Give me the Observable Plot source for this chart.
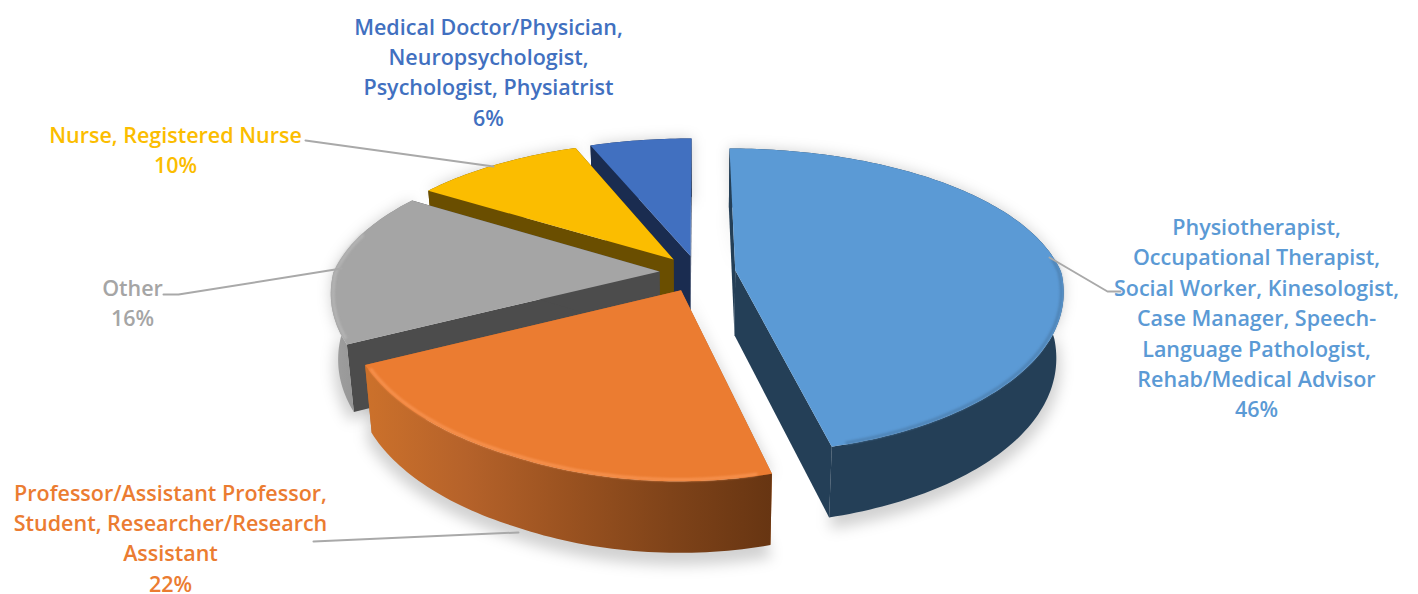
<!DOCTYPE html>
<html><head><meta charset="utf-8">
<script src="https://cdn.jsdelivr.net/npm/d3@7"></script>
<script src="https://cdn.jsdelivr.net/npm/@observablehq/plot@0.6"></script>
<style>html,body{margin:0;padding:0;background:#fff}svg{display:block}</style>
</head><body><div id="chart"></div>
<script>
const categories = ["Physiotherapist, Occupational Therapist, Social Worker, Kinesologist, Case Manager, Speech-Language Pathologist, Rehab/Medical Advisor",
  "Professor/Assistant Professor, Student, Researcher/Research Assistant","Other","Nurse, Registered Nurse","Medical Doctor/Physician, Neuropsychologist, Psychologist, Physiatrist"];
const shares = [46,22,16,10,6];
const topColors = ["#5b9ad5","#eb7c31","#a5a5a5","#fbbd00","#4170c0"];
const wallColors = ["#243f57","#b8652a","#4c4c4c","#6a4e00","#1a2c50"];
const rimColors = ["#243f57","url(#orangeRim)","url(#grayRim)","#6a4e00","#1a2c50"];
const glowColors = ["#4f84b6","#f6914e","#b4b4b4","#fbbd00","#4170c0"];
const glowFrom = [86,168,247];
const glowTo = [163,243,285];
const labelText = ["Physiotherapist,\nOccupational Therapist,\nSocial Worker, Kinesologist,\nCase Manager, Speech-\nLanguage Pathologist,\nRehab/Medical Advisor\n46%",
  "Professor/Assistant Professor,\nStudent, Researcher/Research\nAssistant\n22%","Other\n16%","Nurse, Registered Nurse\n10%",
  "Medical Doctor/Physician,\nNeuropsychologist,\nPsychologist, Physiatrist\n6%"];
const labelX = [1256,170,132,175,488];
const labelY = [316,536,301,148,70];
const leaders = [
  [[1049,257],[1107,291],[1120,291]],
  [[518,532],[313,541]],
  [[341,268],[178,294],[163,294]],
  [[493,166],[305,140]],
  []
];
// projection of the tilted disc
const cx=697, cy=272, A=326, B=147, k=0.2, bulge=20, explode=0.117;
const project=(u,v,h)=>({
  x:cx+A*u/(1-(v>0?0.12:0.18)*v)*(1-0.02*h),
  y:cy+B*v/(1-k*v)+(v>0&&v<1?bulge*v*(1-v):0)+h*(65+6*v)
});
let acc=0;
const slices=shares.map((s,i)=>{const a0=acc/100*2*Math.PI;acc+=s;const a1=acc/100*2*Math.PI;const m=(a0+a1)/2;
  return {i,a0,a1,ou:explode*Math.sin(m),ov:-explode*Math.cos(m)};});
const pt=(s,r,a,h)=>project(s.ou+r*Math.sin(a),s.ov-r*Math.cos(a),h);
const arcBetween=(s,a0,a1,h,r=1,rev=false)=>{const n=Math.ceil((a1-a0)/0.02);const p=d3.range(n+1).map(j=>pt(s,r,a0+(a1-a0)*j/n,h));return rev?p.reverse():p;};
const arc=(s,h,r=1,rev=false)=>arcBetween(s,s.a0,s.a1,h,r,rev);
const topFace=(s,h=0)=>[pt(s,0,0,h),...arc(s,h)];
const rimWall=s=>[...arc(s,0),...arc(s,1,1,true)];
const radial=(s,a)=>[pt(s,0,0,0),pt(s,1,a,0),pt(s,1,a,1),pt(s,0,0,1)];
const face=(data,fill,extra={})=>Plot.line(data,{x:"x",y:"y",fill,stroke:"none",...extra});
const defs=()=>{const d=d3.create("svg:defs");
  const grad=(id,stops)=>{const g=d.append("linearGradient").attr("id",id);stops.forEach((c,j)=>g.append("stop").attr("offset",j/(stops.length-1)).attr("stop-color",c));};
  grad("orangeRim",["#cc712b","#b5622a","#9a5220","#7f4319","#673512"]);
  grad("grayRim",["#a0a0a0","#7e7e7e"]);
  return d.node();};
const marks=[defs];
slices.forEach(s=>{
  const shadow=[...topFace(s,0),...arc(s,1.12,1.015,true)];
  marks.push(face(shadow,"#000",{fillOpacity:0.18,imageFilter:"blur(7px)"}));
});
[4,3,2,1,0].forEach(i=>{const s=slices[i];
  marks.push(face(radial(s,s.a0),wallColors[i]));
  marks.push(face(radial(s,s.a1),wallColors[i]));
  marks.push(face(rimWall(s),rimColors[i]));
  marks.push(face(topFace(s),topColors[i]));
  if(i<3){const rad=Math.PI/180;marks.push(Plot.line(arcBetween(s,glowFrom[i]*rad,glowTo[i]*rad,0,0.993),{x:"x",y:"y",stroke:glowColors[i],strokeWidth:3,imageFilter:"blur(1.2px)"}));}
});
leaders.forEach(l=>{if(l.length) marks.push(Plot.line(l.map(([x,y])=>({x,y})),{x:"x",y:"y",stroke:"#a9a9a9",strokeWidth:2}));});
const labels=shares.map((s,i)=>({t:labelText[i],x:labelX[i],y:labelY[i],c:topColors[i]}));
marks.push(Plot.text(labels,{x:"x",y:"y",text:"t",fill:"c",textAnchor:"middle",lineAnchor:"middle",lineHeight:1.414,fontSize:21.5,fontWeight:600,fontFamily:"Open Sans"}));
const chart=Plot.plot({width:1418,height:594,margin:0,x:{domain:[0,1418],range:[0,1418],axis:null},y:{domain:[0,594],range:[0,594],axis:null},style:{background:"#fff"},marks});
document.getElementById("chart").append(chart);
</script></body></html>
